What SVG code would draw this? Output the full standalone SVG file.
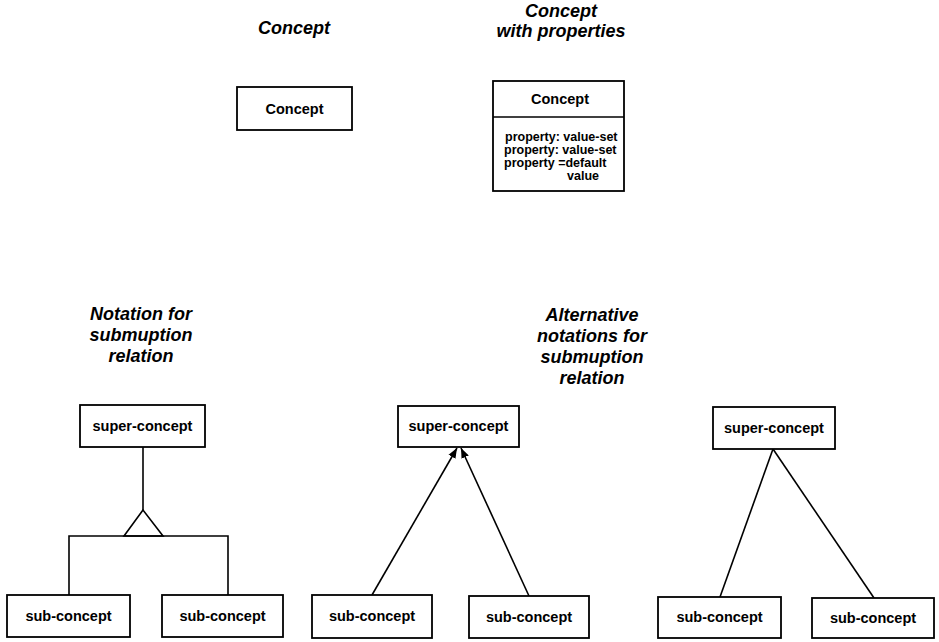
<svg xmlns="http://www.w3.org/2000/svg" width="939" height="642" viewBox="0 0 939 642">
<style>
.box{fill:#fff;stroke:#000;stroke-width:1.8}
.ln{fill:none;stroke:#000;stroke-width:1.6}
.t{font-family:"Liberation Sans",Arial,sans-serif;font-weight:bold;font-size:14.5px;text-anchor:middle;fill:#000}
.p{font-family:"Liberation Sans",Arial,sans-serif;font-weight:bold;font-size:12.5px;fill:#000}
.h{font-family:"Liberation Sans",Arial,sans-serif;font-weight:bold;font-style:italic;font-size:18px;text-anchor:middle;fill:#000}
</style>
<defs>
<marker id="arr" viewBox="0 0 10 10" refX="10" refY="5" markerWidth="10" markerHeight="10" markerUnits="userSpaceOnUse" orient="auto">
<path d="M0,1 L10,5 L0,9 Z" fill="#000"/>
</marker>
</defs>
<rect width="939" height="642" fill="#fff"/>
<g id="titles">
<text class="h" x="294" y="34">Concept</text>
<text class="h" x="561" y="17">Concept</text>
<text class="h" x="561" y="37">with properties</text>
<text class="h" x="141" y="320">Notation for</text>
<text class="h" x="141" y="341">submuption</text>
<text class="h" x="141" y="362">relation</text>
<text class="h" x="592" y="321">Alternative</text>
<text class="h" x="592" y="342">notations for</text>
<text class="h" x="592" y="363">submuption</text>
<text class="h" x="592" y="384">relation</text>
</g>
<g id="connectors">
<line class="ln" x1="143" y1="447" x2="143" y2="510"/>
<path class="ln" d="M143,510 L124,536 L163,536 Z"/>
<path class="ln" d="M69,595 L69,536 L228,536 L228,595"/>
<line class="ln" x1="372" y1="595" x2="457" y2="448" marker-end="url(#arr)"/>
<line class="ln" x1="529" y1="596" x2="461" y2="448" marker-end="url(#arr)"/>
<line class="ln" x1="773" y1="449" x2="720" y2="597"/>
<line class="ln" x1="773" y1="449" x2="874" y2="598"/>
</g>
<g id="concept">
<rect class="box" x="237" y="87" width="115" height="43"/>
<text class="t" x="294.5" y="114">Concept</text>
</g>
<g id="concept-with-properties">
<rect class="box" x="493" y="81" width="131" height="110"/>
<line class="ln" x1="493" y1="117" x2="624" y2="117"/>
<text class="t" x="560" y="104">Concept</text>
<text class="p" x="505" y="141">property: value-set</text>
<text class="p" x="504" y="154">property: value-set</text>
<text class="p" x="504" y="167">property =default</text>
<text class="p" x="567" y="180">value</text>
</g>
<g id="super1">
<rect class="box" x="80" y="405" width="125" height="42"/>
<text class="t" x="142.5" y="431">super-concept</text>
</g>
<g id="sub1a">
<rect class="box" x="7" y="595" width="123" height="42"/>
<text class="t" x="68.5" y="621">sub-concept</text>
</g>
<g id="sub1b">
<rect class="box" x="162" y="595" width="121" height="42"/>
<text class="t" x="222.5" y="621">sub-concept</text>
</g>
<g id="super2">
<rect class="box" x="398" y="406" width="121" height="41"/>
<text class="t" x="458.5" y="431">super-concept</text>
</g>
<g id="sub2a">
<rect class="box" x="312" y="595" width="120" height="43"/>
<text class="t" x="372" y="621">sub-concept</text>
</g>
<g id="sub2b">
<rect class="box" x="469" y="596" width="120" height="42"/>
<text class="t" x="529" y="622">sub-concept</text>
</g>
<g id="super3">
<rect class="box" x="713" y="407" width="122" height="42"/>
<text class="t" x="774" y="433">super-concept</text>
</g>
<g id="sub3a">
<rect class="box" x="658" y="597" width="123" height="41"/>
<text class="t" x="719.5" y="622">sub-concept</text>
</g>
<g id="sub3b">
<rect class="box" x="812" y="598" width="122" height="40"/>
<text class="t" x="873" y="623">sub-concept</text>
</g>
</svg>
